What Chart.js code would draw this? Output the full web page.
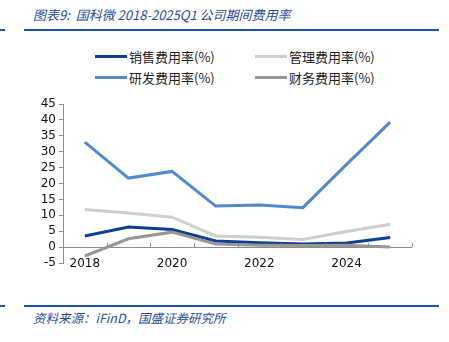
<!DOCTYPE html>
<html>
<head>
<meta charset="utf-8">
<script src="https://cdn.jsdelivr.net/npm/chart.js@4"></script>
<style>
  body { margin: 0; width: 449px; height: 342px; background: #fff; position: relative; overflow: hidden; font-family: "Noto Sans CJK SC", sans-serif; }
  .title { position: absolute; left: 33px; top: 5px; font-size: 13px; font-style: italic; color: #1f4e9a; white-space: nowrap; }
  .rule { position: absolute; height: 2px; background: #1f55a8; }
  .source { position: absolute; left: 33px; top: 308px; font-size: 12.5px; font-style: italic; color: #1f4e9a; white-space: nowrap; }
  #legend { position: absolute; left: 95px; top: 47px; width: 330px; display: grid; grid-template-columns: 160px 160px; row-gap: 2px; }
  .item { display: flex; align-items: center; font-size: 13px; color: #222; height: 19px; }
  .swatch { width: 32px; height: 3px; margin-right: 2px; }
  #wrap { position: absolute; left: 0; top: 90px; width: 449px; height: 190px; }
</style>
</head>
<body>
<div class="title">图表9:&nbsp; 国科微 2018-2025Q1 公司期间费用率</div>
<div class="rule" style="left:0;top:29px;width:5px"></div>
<div class="rule" style="left:24px;top:29px;width:415px"></div>
<div id="legend"></div>
<div id="wrap"><canvas id="chart"></canvas></div>
<div class="rule" style="left:0;top:305px;width:5px"></div>
<div class="rule" style="left:24px;top:305px;width:415px"></div>
<div class="source">资料来源：iFinD，国盛证券研究所</div>
<script>
const years = ["2018", "2019", "2020", "2021", "2022", "2023", "2024", "2025"];
const sales = [3.5, 6.3, 5.5, 1.9, 1.4, 1.0, 1.3, 3.0];
const admin = [11.8, 10.7, 9.4, 3.5, 3.1, 2.4, 4.9, 7.2];
const research = [33.0, 21.7, 23.8, 12.9, 13.2, 12.4, 26.0, 39.3];
const finance = [-2.8, 2.6, 4.7, 1.0, 0.6, 0.5, 0.6, 0.0];
const yTicks = [45, 40, 35, 30, 25, 20, 15, 10, 5, 0, -5];

const series = [
    { label: "销售费用率(%)", data: sales, color: "#0d3f94" },
    { label: "管理费用率(%)", data: admin, color: "#cfcfcf" },
    { label: "研发费用率(%)", data: research, color: "#5089cc" },
    { label: "财务费用率(%)", data: finance, color: "#979797" }
];

const legend = document.getElementById("legend");
series.forEach(function (s) {
    const item = document.createElement("div");
    item.className = "item";
    item.innerHTML = `<span class="swatch" style="background:${s.color}"></span>${s.label}`;
    legend.appendChild(item);
});

const tickFont = { family: "DejaVu Sans", size: 12 };
const axisColor = "#8c8c8c";

// small tick marks between categories on the zero line
const zeroTicks = {
    id: "zeroTicks",
    afterDatasetsDraw(chart) {
        const x = chart.scales.x, y = chart.scales.y;
        const y0 = y.getPixelForValue(0);
        const c = chart.ctx;
        c.save();
        c.strokeStyle = axisColor;
        c.lineWidth = 1;
        c.beginPath();
        for (let i = 1; i <= years.length; i++) {
            const px = Math.round((x.getPixelForValue(i - 1) + x.getPixelForValue(i)) / 2) + 0.5;
            c.moveTo(px, y0);
            c.lineTo(px, y0 - 4);
        }
        c.stroke();
        c.restore();
    }
};

new Chart(document.getElementById("chart"), {
    type: "line",
    data: {
        labels: years,
        datasets: series.slice().reverse().map(function (s) {
            return {
                label: s.label,
                data: s.data,
                borderColor: s.color,
                backgroundColor: s.color,
                borderWidth: 3,
                pointRadius: 0,
                tension: 0
            };
        })
    },
    options: {
        responsive: true,
        maintainAspectRatio: false,
        animation: false,
        layout: { padding: { top: 14, right: 37, left: 0, bottom: 0 } },
        plugins: { legend: { display: false }, tooltip: { enabled: false } },
        scales: {
            x: {
                offset: true,
                grid: { display: false },
                border: { display: false },
                ticks: {
                    font: tickFont, color: "#111", maxRotation: 0, autoSkip: false,
                    mirror: true, padding: -8,   // mirror = no label clipping, lets labels sit level with -5
                    callback: function (v, i) { return i % 2 === 0 ? years[i] : ""; }
                },
                afterFit: function (s) { s.height = 17; }
            },
            y: {
                min: -5,
                max: 45,
                afterBuildTicks: function (s) { s.ticks = yTicks.map(function (v) { return { value: v }; }); },
                grid: {
                    drawOnChartArea: true,
                    tickLength: 4,
                    tickColor: axisColor,
                    color: function (ctx) { return ctx.tick && ctx.tick.value === 0 ? axisColor : "rgba(0,0,0,0)"; }
                },
                border: { color: axisColor },
                ticks: { font: tickFont, color: "#111", padding: 3, autoSkip: false },
                afterFit: function (s) { s.width = 63; }
            }
        }
    },
    plugins: [zeroTicks]
});
</script>
</body>
</html>
